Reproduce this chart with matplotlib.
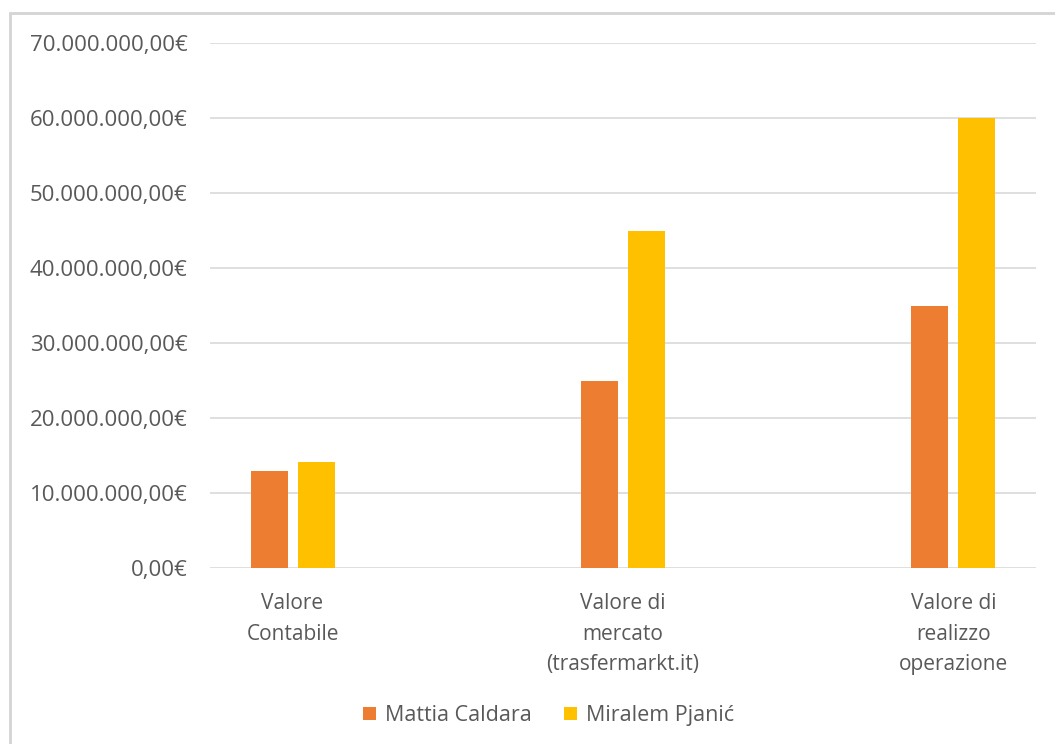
import numpy as np
import matplotlib.pyplot as plt
from matplotlib.patches import Rectangle
from matplotlib.ticker import FuncFormatter

plt.rcParams['font.family'] = ['Open Sans', 'DejaVu Sans']

categories = ["Valore\nContabile", "Valore di\nmercato\n(trasfermarkt.it)", "Valore di\nrealizzo\noperazione"]
caldara = [13_000_000, 25_000_000, 35_000_000]
pjanic = [14_150_000, 45_000_000, 60_000_000]
series_names = ["Mattia Caldara", "Miralem Pjanić"]
yticks = np.arange(0, 70_000_001, 10_000_000)

text_color = "#595959"
grid_color = "#d9d9d9"


def euro(v, pos=None):
    s = f"{v:,.2f}".replace(",", "X").replace(".", ",").replace("X", ".")
    return s + "€"


fig = plt.figure(figsize=(10.55, 7.44), dpi=100)
ax = fig.add_axes([0.199, 0.2366, 0.783, 0.7054])

x = np.arange(len(categories))
w = 0.112
off = 0.071
ax.bar(x - off, caldara, w, color="#ED7D31", label=series_names[0], zorder=3)
ax.bar(x + off, pjanic, w, color="#FFC000", label=series_names[1], zorder=3)

ax.set_xlim(-0.25, 2.25)
ax.set_ylim(0, 70_000_000)
ax.set_yticks(yticks)
ax.yaxis.set_major_formatter(FuncFormatter(euro))
ax.set_xticks(x)
ax.set_xticklabels(categories, linespacing=1.6, fontsize=15)

ax.grid(axis="y", color=grid_color, linewidth=1.2, zorder=0)
for s in ax.spines.values():
    s.set_visible(False)
ax.tick_params(axis="both", length=0, colors=text_color)
ax.tick_params(axis="y", pad=16, labelsize=16)
ax.tick_params(axis="x", pad=18)

leg = fig.legend(loc="center", bbox_to_anchor=(0.52, 0.038), ncol=2, frameon=False,
                 fontsize=15.5, handlelength=0.6, handleheight=0.6, handletextpad=0.4,
                 columnspacing=1.5, labelcolor=text_color)

# chart frame (cropped screenshot)
fig.patches.append(Rectangle((10 / 1055, -0.1), 1.2, 1 - 13 / 744 + 0.1,
                             transform=fig.transFigure, fill=False,
                             edgecolor="#d4d4d4", linewidth=2))

fig.savefig("out.png", dpi=100)
